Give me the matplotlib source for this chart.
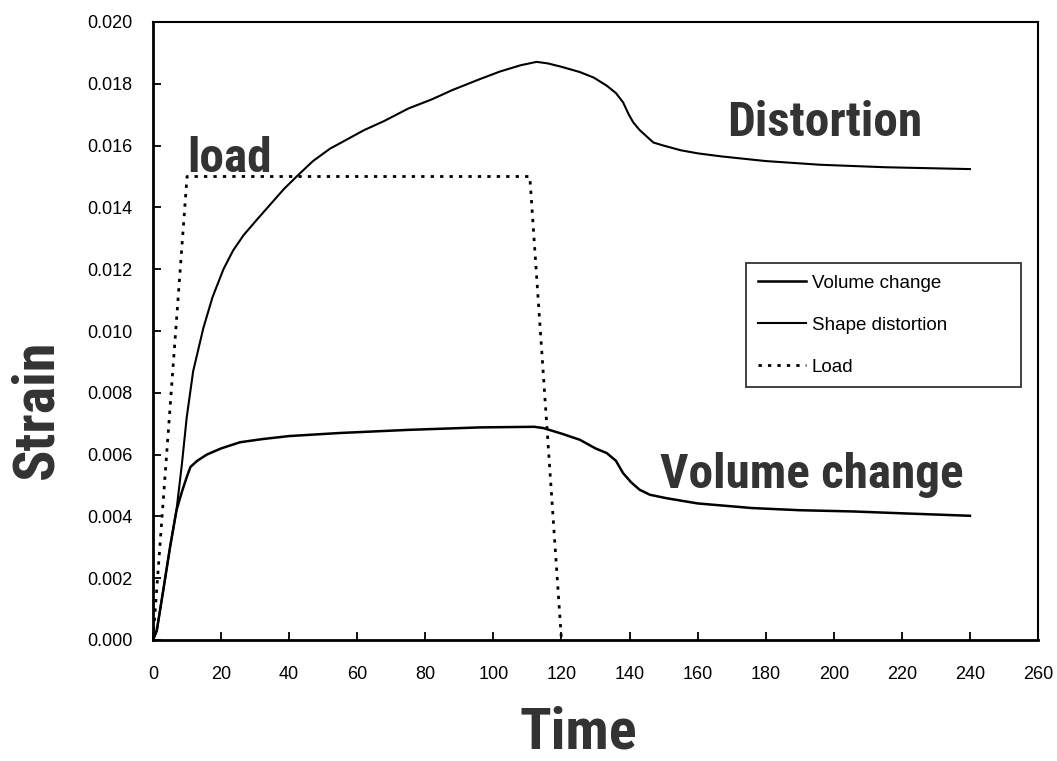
import matplotlib
matplotlib.use("Agg")
import matplotlib.pyplot as plt

# Shape distortion (deviatoric strain) versus time
dist_t = [0, 1.1, 3, 5, 6.9, 8.5, 9.9, 11.8, 14.8, 17.5, 20.7, 23.5, 26.6, 30.5,
          35.3, 38.5, 42.2, 47, 52, 57, 62, 68, 75, 82, 88, 96, 102, 108,
          112.7, 116, 120, 125.4, 129.5, 133.3, 136, 138.1, 139.8, 141.1, 143,
          145, 147, 150, 155, 160, 167, 180, 196, 215, 240]
dist_v = [0, 0.0003, 0.0016, 0.0030, 0.0042, 0.0057, 0.0072, 0.0087, 0.0101,
          0.0111, 0.0120, 0.0126, 0.0131, 0.0136, 0.0142, 0.0146, 0.0150,
          0.0155, 0.0159, 0.0162, 0.0165, 0.0168, 0.0172, 0.0175, 0.0178,
          0.01815, 0.0184, 0.0186, 0.01871, 0.01866, 0.01855, 0.01838, 0.0182,
          0.01794, 0.0177, 0.0174, 0.0170, 0.01675, 0.0165, 0.0163, 0.0161,
          0.0160, 0.01585, 0.01575, 0.01565, 0.01550, 0.01538, 0.0153, 0.01524]

# Volume change (volumetric strain) versus time
vol_t = [0, 1.1, 3, 5, 6.9, 8.5, 10, 11, 13, 15.8, 20, 25.6, 32, 40, 55, 75, 96,
         112, 114.6, 120, 125.4, 130, 133.3, 136, 138.1, 140.5, 143, 146,
         150.8, 160, 176, 190, 205.7, 220, 240]
vol_v = [0, 0.0003, 0.0016, 0.0030, 0.0042, 0.0048, 0.0053, 0.0056, 0.0058,
         0.0060, 0.0062, 0.0064, 0.0065, 0.0066, 0.0067, 0.0068, 0.00688,
         0.0069, 0.00686, 0.00668, 0.00648, 0.0062, 0.00605, 0.0058, 0.0054,
         0.0051, 0.00486, 0.0047, 0.00459, 0.00442, 0.00427, 0.0042, 0.00416,
         0.0041, 0.00402]

# Applied load (trapezoidal history)
load_t = [0, 10, 110.7, 120]
load_v = [0, 0.015, 0.015, 0]

xticks = list(range(0, 261, 20))
yticks = [0.000, 0.002, 0.004, 0.006, 0.008, 0.010, 0.012, 0.014, 0.016, 0.018, 0.020]

head_family = ["Roboto Condensed", "Barlow Semi Condensed", "DejaVu Sans"]
tick_family = ["Liberation Sans", "DejaVu Sans"]
head_color = "#333333"

fig = plt.figure(figsize=(10.57, 7.61), dpi=100)
ax = fig.add_axes([153 / 1057, 121 / 761, 885 / 1057, 618 / 761])

ax.plot(vol_t, vol_v, color="black", lw=1.8, label="Volume change")
ax.plot(dist_t, dist_v, color="black", lw=1.5, label="Shape distortion")
ax.plot(load_t, load_v, color="black", lw=2.0, linestyle=(0, (1.2, 2.2)),
        label="Load")

ax.set_xlim(0, 260)
ax.set_ylim(0, 0.020)
ax.set_xticks(xticks)
ax.set_yticks(yticks)
ax.set_xticklabels([str(v) for v in xticks], family=tick_family, fontsize=13)
ax.set_yticklabels([f"{v:.3f}" for v in yticks], family=tick_family, fontsize=13)
ax.tick_params(direction="in", length=6, width=1.3, top=False, right=False)
ax.tick_params(axis="x", pad=19)
ax.tick_params(axis="y", pad=14.5)

for side in ("left", "bottom"):
    ax.spines[side].set_linewidth(2.0)
for side in ("top", "right"):
    ax.spines[side].set_linewidth(1.5)

leg = ax.legend(loc="upper left", bbox_to_anchor=(0.670, 0.414, 0.311, 0.196),
                mode="expand", prop={"family": tick_family, "size": 13.5},
                frameon=True, fancybox=False, edgecolor="black",
                handlelength=2.6, handletextpad=0.3, labelspacing=1.32,
                borderpad=0.62, borderaxespad=0)
leg.get_frame().set_linewidth(1.3)

ax.text(10.0, 0.01515, "load", family=head_family, fontweight="bold",
        fontsize=35.5, color=head_color, ha="left", va="baseline")
ax.text(168.6, 0.01631, "Distortion", family=head_family, fontweight="bold",
        fontsize=35.5, color=head_color, ha="left", va="baseline")
ax.text(148.9, 0.00492, "Volume change", family=head_family, fontweight="bold",
        fontsize=35.5, color=head_color, ha="left", va="baseline")

fig.text(0.547, 0.001, "Time", family=head_family, fontweight="bold",
         fontsize=42, color=head_color, ha="center", va="bottom")
fig.text(0.035, 0.462, "Strain", family=head_family, fontweight="bold",
         fontsize=42, color=head_color, ha="center", va="center", rotation=90)

fig.savefig("out.png", dpi=100, facecolor="white")
